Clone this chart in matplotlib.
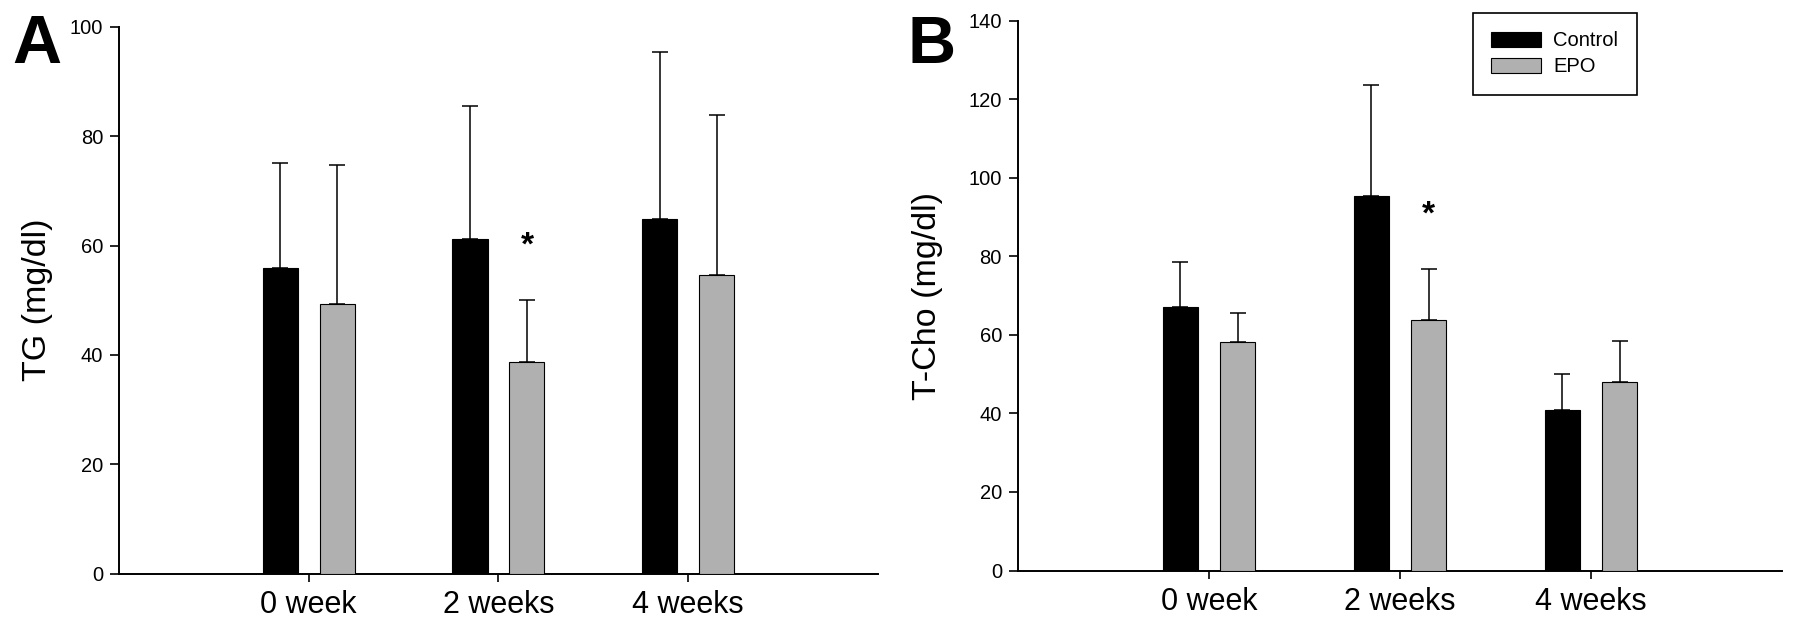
import numpy as np
import matplotlib
matplotlib.use("Agg")
import matplotlib.pyplot as plt
from matplotlib.patches import Patch

plt.rcParams["font.family"] = ["Liberation Sans", "DejaVu Sans"]

# values (mean, upper SD)
weeks = ["0 week", "2 weeks", "4 weeks"]
tg_control = [55.9, 61.2, 64.9]
tg_control_sd = [19.2, 24.3, 30.4]
tg_epo = [49.3, 38.7, 54.7]
tg_epo_sd = [25.5, 11.3, 29.1]
tg_sig = [False, True, False]

tc_control = [67.1, 95.4, 40.8]
tc_control_sd = [11.5, 28.2, 9.2]
tc_epo = [58.2, 63.7, 47.9]
tc_epo_sd = [7.4, 13.0, 10.6]
tc_sig = [False, True, False]

GRAY = "#b0b0b0"
BAR_W = 0.185
OFFSET = 0.15


def draw_panel(ax, control, control_sd, epo, epo_sd, sig, ymax, ylabel, label_x):
    x = np.arange(1, len(weeks) + 1)
    zeros = np.zeros(len(weeks))

    ax.bar(x - OFFSET, control, BAR_W, color="black", edgecolor="black",
           linewidth=0.8, zorder=3)
    ax.bar(x + OFFSET, epo, BAR_W, color=GRAY, edgecolor="black",
           linewidth=0.8, zorder=3)
    ax.errorbar(x - OFFSET, control, yerr=[zeros, control_sd], fmt="none",
                ecolor="black", elinewidth=1.1, capsize=6, capthick=1.1, zorder=2)
    ax.errorbar(x + OFFSET, epo, yerr=[zeros, epo_sd], fmt="none",
                ecolor="black", elinewidth=1.1, capsize=6, capthick=1.1, zorder=2)

    # significance stars above the EPO error bars
    for xi, m, s, flag in zip(x, epo, epo_sd, sig):
        if flag:
            ax.annotate("*", (xi + OFFSET, m + s), xytext=(0, 33),
                        textcoords="offset points", ha="center", va="baseline",
                        fontsize=24, fontweight="bold")

    ax.set_xlim(0, len(weeks) + 1)
    ax.set_ylim(0, ymax)
    ax.set_yticks(np.arange(0, ymax + 1, 20))
    ax.set_xticks(x)
    ax.set_xticklabels(weeks)

    for side in ("top", "right"):
        ax.spines[side].set_visible(False)
    for side in ("left", "bottom"):
        ax.spines[side].set_linewidth(1.4)

    ax.tick_params(axis="y", direction="out", length=6.5, width=1.2,
                   labelsize=14.5, pad=5)
    ax.tick_params(axis="x", direction="out", length=5.5, width=1.2,
                   labelsize=22, pad=6)

    ax.set_ylabel(ylabel, fontsize=24.5, va="center")
    ax.yaxis.set_label_coords(label_x, 0.5)


fig = plt.figure(figsize=(17.95, 6.26), dpi=100)
ax_a = fig.add_axes([0.0663, 0.0835, 0.4228, 0.8738])
ax_b = fig.add_axes([0.5671, 0.0886, 0.4256, 0.8783])

draw_panel(ax_a, tg_control, tg_control_sd, tg_epo, tg_epo_sd, tg_sig,
           100, "TG (mg/dl)", -0.107)
draw_panel(ax_b, tc_control, tc_control_sd, tc_epo, tc_epo_sd, tc_sig,
           140, "T-Cho (mg/dl)", -0.118)

handles = [
    Patch(facecolor="black", edgecolor="black", linewidth=0.8, label="Control"),
    Patch(facecolor=GRAY, edgecolor="black", linewidth=0.8, label="EPO"),
]
leg = ax_b.legend(handles=handles, loc="upper left",
                  bbox_to_anchor=(0.5955, 1.0135), fontsize=14.5,
                  frameon=True, fancybox=False, framealpha=1,
                  edgecolor="black", borderpad=0.9, handlelength=2.5,
                  handleheight=0.83, handletextpad=0.6, labelspacing=0.35,
                  borderaxespad=0)
leg.get_frame().set_linewidth(1.2)

fig.text(12 / 1795, 1 - 63 / 626, "A", fontsize=49, fontweight="bold",
         va="baseline", ha="left")
fig.text(908 / 1795, 1 - 63 / 626, "B", fontsize=48, fontweight="bold",
         va="baseline", ha="left")

fig.savefig("out.png", dpi=100)
